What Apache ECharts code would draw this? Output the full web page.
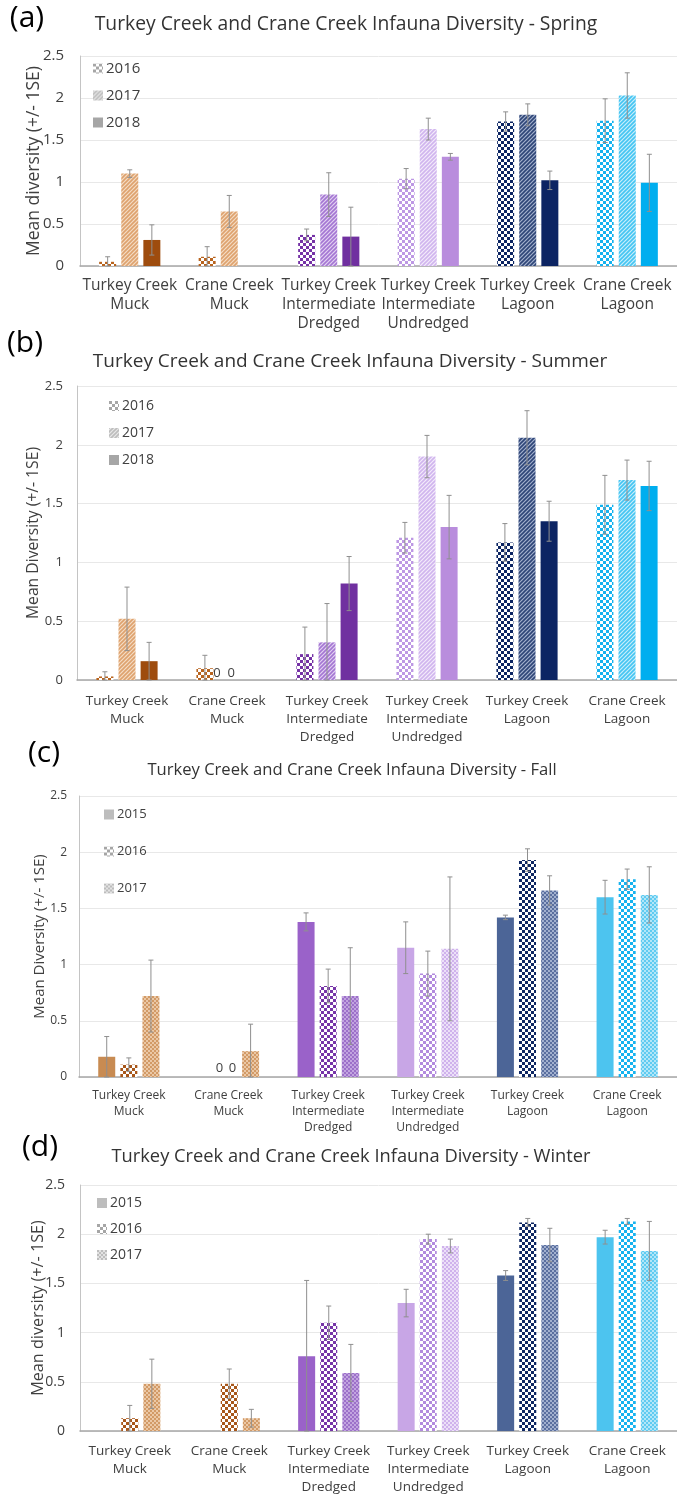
<!DOCTYPE html>
<html>
<head>
<meta charset="utf-8">
<script src="https://cdn.jsdelivr.net/npm/echarts@6/dist/echarts.min.js"></script>
<style>
html, body { margin: 0; padding: 0; background: #fff; }
.panel { position: absolute; left: 0; top: 0; width: 677px; height: 1496px; }
</style>
</head>
<body>
<div id="panelA" class="panel"></div>
<div id="panelB" class="panel"></div>
<div id="panelC" class="panel"></div>
<div id="panelD" class="panel"></div>
<script>
// Sampling sites (x categories), shared by all four seasons
const categories = [
  'Turkey Creek\nMuck',
  'Crane Creek\nMuck',
  'Turkey Creek\nIntermediate\nDredged',
  'Turkey Creek\nIntermediate\nUndredged',
  'Turkey Creek\nLagoon',
  'Crane Creek\nLagoon'
];
const yTickLabels = ['0', '0.5', '1', '1.5', '2', '2.5'];

// Spring: mean diversity and standard error by year
const springYears = ['2016', '2017', '2018'];
const spring2016 = [0.05, 0.11, 0.37, 1.04, 1.72, 1.73];
const spring2016Err = [0.06, 0.12, 0.07, 0.12, 0.115, 0.26];
const spring2017 = [1.10, 0.65, 0.85, 1.63, 1.80, 2.03];
const spring2017Err = [0.045, 0.19, 0.26, 0.13, 0.13, 0.27];
const spring2018 = [0.31, null, 0.35, 1.30, 1.02, 0.99];
const spring2018Err = [0.18, null, 0.35, 0.04, 0.11, 0.34];

// Summer
const summerYears = ['2016', '2017', '2018'];
const summer2016 = [0.03, 0.10, 0.22, 1.21, 1.17, 1.49];
const summer2016Err = [0.04, 0.11, 0.23, 0.13, 0.16, 0.25];
const summer2017 = [0.52, 0, 0.32, 1.90, 2.06, 1.70];
const summer2017Err = [0.27, null, 0.33, 0.18, 0.23, 0.17];
const summer2018 = [0.16, 0, 0.82, 1.30, 1.35, 1.65];
const summer2018Err = [0.16, null, 0.23, 0.27, 0.17, 0.21];

// Fall
const fallYears = ['2015', '2016', '2017'];
const fall2015 = [0.18, 0, 1.38, 1.15, 1.42, 1.60];
const fall2015Err = [0.18, null, 0.08, 0.23, 0.02, 0.15];
const fall2016 = [0.11, 0, 0.81, 0.92, 1.93, 1.76];
const fall2016Err = [0.06, null, 0.15, 0.20, 0.10, 0.09];
const fall2017 = [0.72, 0.23, 0.72, 1.14, 1.66, 1.62];
const fall2017Err = [0.32, 0.24, 0.43, 0.64, 0.13, 0.25];

// Winter
const winterYears = ['2015', '2016', '2017'];
const winter2015 = [null, null, 0.76, 1.30, 1.58, 1.97];
const winter2015Err = [null, null, 0.77, 0.14, 0.05, 0.07];
const winter2016 = [0.13, 0.48, 1.10, 1.95, 2.12, 2.13];
const winter2016Err = [0.13, 0.15, 0.17, 0.05, 0.04, 0.03];
const winter2017 = [0.48, 0.13, 0.59, 1.88, 1.89, 1.83];
const winter2017Err = [0.25, 0.09, 0.29, 0.07, 0.17, 0.30];

// ---------- fill patterns ----------
function tile(size, draw) {
  const c = document.createElement('canvas');
  c.width = c.height = size;
  draw(c.getContext('2d'), size);
  return { image: c, repeat: 'repeat' };
}
function solid(color) { return color; }
function checker(color, bg, s) {
  return tile(2 * s, (g) => {
    g.fillStyle = bg; g.fillRect(0, 0, 2 * s, 2 * s);
    g.fillStyle = color; g.fillRect(0, 0, s, s); g.fillRect(s, s, s, s);
  });
}
function diag(color, bg) {
  return tile(4, (g, n) => {
    g.fillStyle = bg; g.fillRect(0, 0, n, n);
    g.strokeStyle = color; g.lineWidth = 1.6;
    g.beginPath();
    g.moveTo(-1, n + 1); g.lineTo(n + 1, -1);
    g.moveTo(-1, 1); g.lineTo(1, -1);
    g.moveTo(n - 1, n + 1); g.lineTo(n + 1, n - 1);
    g.stroke();
  });
}

// Per-site fills for the spring / summer year set (2016 checks, 2017 stripes, 2018 solid)
const fillsA = [
  [checker('#b8641f', '#ffffff', 3), diag('#dea26e', '#f4dcc4'), solid('#9e4c0e')],
  [checker('#b8641f', '#ffffff', 3), diag('#dea26e', '#f4dcc4'), solid('#9e4c0e')],
  [checker('#7532a6', '#ffffff', 3), diag('#a476d3', '#e2d2f1'), solid('#7030a0')],
  [checker('#bd98e4', '#ffffff', 3), diag('#d0b5ee', '#f3ebfa'), solid('#b98ddd')],
  [checker('#0b2462', '#ffffff', 3), diag('#2e4577', '#a3b0cd'), solid('#0c2463')],
  [checker('#14b2ee', '#ffffff', 3), diag('#45c5f2', '#c8eefb'), solid('#00aeef')]
];
// Per-site fills for the fall / winter year set (2015 solid, 2016 checks, 2017 fine grain)
const fillsB = [
  [solid('#c88b52'), checker('#a8571a', '#ffffff', 3), checker('#d29a66', '#ebc8a6', 2)],
  [solid('#c88b52'), checker('#a8571a', '#ffffff', 3), checker('#d29a66', '#ebc8a6', 2)],
  [solid('#9a62c9'), checker('#7634a8', '#ffffff', 3), checker('#9c70c9', '#c2a4e0', 2)],
  [solid('#c8a6e6'), checker('#b28ade', '#ffffff', 3), checker('#cfb2ec', '#ece0f8', 2)],
  [solid('#4c6597'), checker('#0e2763', '#ffffff', 3), checker('#5a6f9f', '#a2b0cf', 2)],
  [solid('#4dc4ef'), checker('#17b3ef', '#ffffff', 3), checker('#5fcbf1', '#b2e6f8', 2)]
];
const legendA = [checker('#a6a6a6', '#ffffff', 3), diag('#bdbdbd', '#e8e8e8'), solid('#a6a6a6')];
const legendB = [solid('#bdbdbd'), checker('#a6a6a6', '#ffffff', 3), checker('#bdbdbd', '#e3e3e3', 2)];

const FONT = '"Open Sans", "Noto Sans", sans-serif';
const BAR_W = 17;
const BAR_GAP = 0.3;

function buildPanel(el, cfg) {
  const chart = echarts.init(el, null, { renderer: 'canvas' });
  const series = [];
  const step = BAR_W * (1 + BAR_GAP);
  cfg.years.forEach((year, s) => {
    const vals = cfg.values[s];
    series.push({
      name: year,
      type: 'bar',
      barWidth: BAR_W,
      barGap: (BAR_GAP * 100) + '%',
      itemStyle: { color: cfg.legendFills[s] },
      emphasis: { disabled: true },
      data: vals.map((v, i) => {
        if (v == null) return '-';
        const item = { value: v, itemStyle: { color: cfg.fills[i][s] } };
        if (v === 0 && cfg.zeroLabels) {
          item.label = {
            show: true, position: 'top', formatter: '0',
            distance: cfg.zeroLabelDist, offset: [cfg.zeroLabelShift[s], 0],
            color: '#404040', fontFamily: FONT, fontSize: cfg.zeroFont
          };
        }
        return item;
      })
    });
  });
  // standard-error whiskers drawn over each bar
  cfg.years.forEach((year, s) => {
    const vals = cfg.values[s];
    const errs = cfg.errors[s];
    const pts = [];
    vals.forEach((v, i) => {
      if (v != null && errs[i] != null) pts.push([i, v, errs[i]]);
    });
    const offset = (s - 1) * step;
    series.push({
      type: 'custom',
      name: year + ' SE',
      z: 5,
      silent: true,
      encode: { x: 0, y: 1 },
      data: pts,
      renderItem: (params, api) => {
        const i = api.value(0), v = api.value(1), e = api.value(2);
        const hi = api.coord([i, v + e]);
        const lo = api.coord([i, Math.max(0, v - e)]);
        const x = hi[0] + offset;
        const cap = 2.5;
        const st = { stroke: '#8f8f8f', lineWidth: 1 };
        return {
          type: 'group',
          children: [
            { type: 'line', shape: { x1: x, y1: hi[1], x2: x, y2: lo[1] }, style: st },
            { type: 'line', shape: { x1: x - cap, y1: hi[1], x2: x + cap, y2: hi[1] }, style: st },
            { type: 'line', shape: { x1: x - cap, y1: lo[1], x2: x + cap, y2: lo[1] }, style: st }
          ]
        };
      }
    });
  });

  chart.setOption({
    animation: false,
    backgroundColor: 'transparent',
    textStyle: { fontFamily: FONT },
    graphic: [
      {
        type: 'text', x: cfg.letterPos[0], y: cfg.letterPos[1],
        style: { text: cfg.letter, font: cfg.letterFont + 'px ' + FONT, fill: '#000', textAlign: 'center', textVerticalAlign: 'middle' }
      },
      {
        type: 'text', x: cfg.titlePos[0], y: cfg.titlePos[1],
        style: { text: cfg.title, font: cfg.titleFont + 'px ' + FONT, fill: '#333', textAlign: 'center', textVerticalAlign: 'middle' }
      }
    ],
    legend: {
      orient: 'vertical',
      left: cfg.legendLeft,
      top: cfg.legendTop,
      itemWidth: 10,
      itemHeight: 10,
      itemGap: cfg.legendGap,
      icon: 'rect',
      selectedMode: false,
      data: cfg.years,
      textStyle: { fontFamily: FONT, fontSize: cfg.legendFont, color: '#404040', padding: [0, 0, 0, -2] }
    },
    grid: { left: cfg.grid[0], top: cfg.grid[1], right: cfg.grid[2], height: cfg.grid[3], containLabel: false },
    xAxis: {
      type: 'category',
      data: categories,
      axisTick: { show: false },
      axisLine: { lineStyle: { color: '#a6a6a6', width: 1.5 } },
      axisLabel: {
        interval: 0, color: '#404040', fontFamily: FONT,
        fontSize: cfg.catFont, lineHeight: cfg.catLine, margin: cfg.catMargin
      }
    },
    yAxis: {
      type: 'value',
      min: 0, max: 2.5, interval: 0.5,
      name: cfg.yName,
      nameLocation: 'middle',
      nameGap: cfg.yNameGap,
      nameMoveOverlap: false,
      nameTextStyle: { color: '#404040', fontFamily: FONT, fontSize: cfg.yNameFont },
      axisLine: { show: true, lineStyle: { color: '#c4c4c4', width: 1 } },
      axisTick: { show: false },
      splitLine: { lineStyle: { color: '#e8e8e8', width: 1 } },
      axisLabel: {
        color: '#404040', fontFamily: FONT, fontSize: cfg.tickFont, margin: cfg.tickMargin,
        formatter: (v) => yTickLabels[Math.round(v / 0.5)]
      }
    },
    series: series
  });
}

buildPanel(document.getElementById('panelA'), {
  letter: '(a)', letterPos: [27, 18], letterFont: 30,
  title: 'Turkey Creek and Crane Creek Infauna Diversity - Spring', titlePos: [346, 25], titleFont: 19.3,
  years: springYears,
  values: [spring2016, spring2017, spring2018],
  errors: [spring2016Err, spring2017Err, spring2018Err],
  fills: fillsA, legendFills: legendA,
  legendLeft: 88, legendTop: 56, legendGap: 12, legendFont: 15,
  grid: [80, 56, 0, 210],
  catFont: 15.5, catLine: 19, catMargin: 10,
  tickFont: 15, tickMargin: 16,
  yName: 'Mean diversity (+/- 1SE)', yNameGap: 37, yNameFont: 17.5,
  zeroLabels: false
});

buildPanel(document.getElementById('panelB'), {
  letter: '(b)', letterPos: [25, 343], letterFont: 30,
  title: 'Turkey Creek and Crane Creek Infauna Diversity - Summer', titlePos: [350, 362], titleFont: 19,
  years: summerYears,
  values: [summer2016, summer2017, summer2018],
  errors: [summer2016Err, summer2017Err, summer2018Err],
  fills: fillsA, legendFills: legendA,
  legendLeft: 104, legendTop: 394, legendGap: 13, legendFont: 14,
  grid: [77, 386, 0, 294],
  catFont: 13.5, catLine: 18, catMargin: 12,
  tickFont: 13, tickMargin: 14,
  yName: 'Mean Diversity (+/- 1SE)', yNameGap: 35, yNameFont: 15.7,
  zeroLabels: true, zeroLabelDist: 0, zeroLabelShift: [0, -10, -18], zeroFont: 13
});

buildPanel(document.getElementById('panelC'), {
  letter: '(c)', letterPos: [44, 753], letterFont: 30,
  title: 'Turkey Creek and Crane Creek Infauna Diversity - Fall', titlePos: [352, 770], titleFont: 16.6,
  years: fallYears,
  values: [fall2015, fall2016, fall2017],
  errors: [fall2015Err, fall2016Err, fall2017Err],
  fills: fillsB, legendFills: legendB,
  legendLeft: 99, legendTop: 803, legendGap: 24, legendFont: 13,
  grid: [79, 796, 0, 281],
  catFont: 12, catLine: 16, catMargin: 11,
  tickFont: 12, tickMargin: 12,
  yName: 'Mean Diversity (+/- 1SE)', yNameGap: 32, yNameFont: 15,
  zeroLabels: true, zeroLabelDist: 2, zeroLabelShift: [13, 4, 0], zeroFont: 13
});

buildPanel(document.getElementById('panelD'), {
  letter: '(d)', letterPos: [40, 1147], letterFont: 30,
  title: 'Turkey Creek and Crane Creek Infauna Diversity - Winter', titlePos: [351, 1157], titleFont: 18.3,
  years: winterYears,
  values: [winter2015, winter2016, winter2017],
  errors: [winter2015Err, winter2016Err, winter2017Err],
  fills: fillsB, legendFills: legendB,
  legendLeft: 92, legendTop: 1191, legendGap: 12, legendFont: 14,
  grid: [80, 1185, 0, 247],
  catFont: 13.5, catLine: 18, catMargin: 11,
  tickFont: 14, tickMargin: 15,
  yName: 'Mean diversity (+/- 1SE)', yNameGap: 34, yNameFont: 16.2,
  zeroLabels: false
});
</script>
</body>
</html>
